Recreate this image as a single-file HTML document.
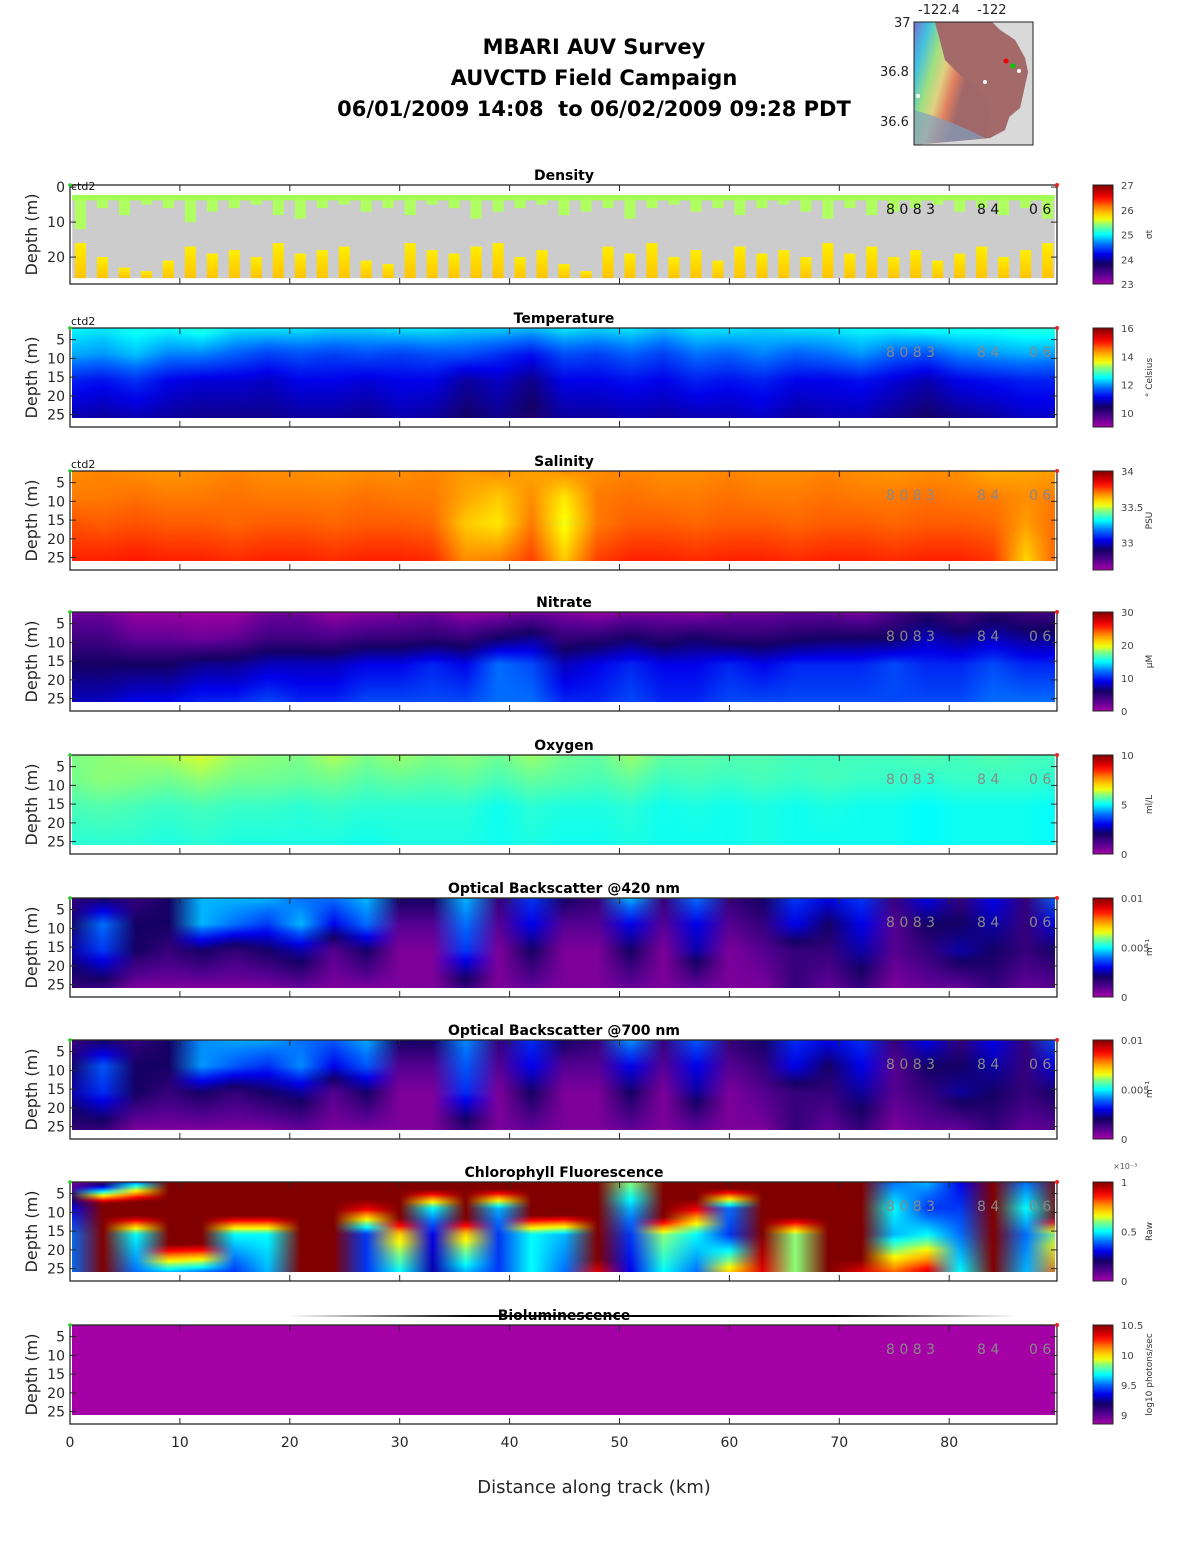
<!DOCTYPE html>
<html><head><meta charset="utf-8">
<style>
body{margin:0;background:#fff;}
#root{position:relative;width:1188px;height:1548px;overflow:hidden;background:#fff;font-family:"DejaVu Sans","Liberation Sans",sans-serif;}
canvas{position:absolute;}
svg{position:absolute;left:0;top:0;}
text{white-space:pre;}
</style></head>
<body>
<div id="root">
<svg id="svg" width="1188" height="1548"></svg>
</div>
<script>
const colKm = [0,3,6,9,12,15,18,21,24,27,30,33,36,39,42,45,48,51,54,57,60,63,66,69,72,75,78,81,84,87,90];
const levelDepths = [2,9,16,26];
// Temperature (deg C)
const tempD2 = [12.5,12.4,12.6,12.5,12.7,12.4,12.4,12.4,12.3,12.3,12.4,12.4,12.3,12.3,12.2,12.4,12.3,12.4,12.2,12.4,12.4,12.3,12.4,12.4,12.5,12.5,12.6,12.6,12.6,12.7,12.7];
const tempD9 = [12.1,12.0,12.2,11.9,11.9,11.7,11.5,11.6,11.5,11.6,11.5,11.6,11.6,11.4,11.2,11.6,11.5,11.7,11.5,11.8,11.7,11.9,11.7,11.8,12.0,11.7,11.6,11.9,12.0,12.1,12.0];
const tempD16 = [11.3,11.2,11.4,11.1,11.0,11.0,10.9,11.1,11.1,11.0,11.1,11.1,10.7,10.9,10.6,11.1,11.1,11.2,11.1,11.3,11.2,11.3,11.1,11.1,11.2,11.0,10.8,11.1,11.2,11.3,11.3];
const tempD26 = [10.8,10.7,10.8,10.7,10.6,10.6,10.6,10.7,10.7,10.6,10.8,10.7,10.4,10.6,10.3,10.7,10.7,10.8,10.7,10.8,10.8,10.9,10.7,10.8,10.8,10.6,10.4,10.6,10.7,10.9,10.9];
// Salinity (PSU)
const salD2 = [33.68,33.69,33.68,33.67,33.68,33.69,33.68,33.68,33.67,33.68,33.68,33.69,33.66,33.68,33.65,33.68,33.68,33.69,33.68,33.68,33.69,33.68,33.68,33.69,33.68,33.67,33.68,33.68,33.64,33.65,33.66];
const salD9 = [33.70,33.70,33.71,33.70,33.70,33.71,33.70,33.70,33.70,33.71,33.70,33.70,33.65,33.60,33.68,33.56,33.70,33.71,33.70,33.70,33.71,33.70,33.70,33.71,33.70,33.70,33.71,33.70,33.70,33.68,33.70];
const salD16 = [33.74,33.73,33.74,33.73,33.73,33.72,33.73,33.73,33.72,33.73,33.73,33.72,33.60,33.56,33.70,33.52,33.70,33.73,33.73,33.72,33.73,33.73,33.72,33.73,33.73,33.72,33.73,33.73,33.72,33.66,33.72];
const salD26 = [33.79,33.79,33.80,33.79,33.79,33.78,33.79,33.79,33.78,33.79,33.79,33.78,33.68,33.70,33.76,33.60,33.76,33.79,33.79,33.78,33.79,33.79,33.78,33.79,33.79,33.78,33.79,33.79,33.77,33.58,33.74];
// Nitrate (uM)
const no3D2 = [2,2,0.5,0.5,0.3,0.3,2,2,0.5,1,1.5,2,0.5,1,2,1.5,0.5,1.5,1.5,1,2,2,2.5,2.5,1.5,3.5,5,3.5,5,4,4];
const no3D9 = [4,4,2.5,2.5,2,2.5,4,4,3.5,4.5,4.5,5,4.5,6,7,4.5,5,6,5,6,5,5,5.5,6,6,6,8,7,8,7,7];
const no3D16 = [6,6,6,6,7,7,8,8,8,9,9,10,9,12,11,8,9,10,9,9,10,9,10,10,10,11,10,10,11,10,10];
const no3D26 = [8,8,9,9,10,10,11,10,10,11,11,11,11,12,12,10,10,11,10,10,11,11,11,11,11,11,11,11,12,12,12];
// Oxygen (ml/L)
const oxyD2 = [5.9,6.0,6.1,6.2,6.4,6.1,6.0,5.9,6.2,5.9,6.1,5.9,6.0,5.8,6.1,5.8,5.7,6.1,5.7,5.7,5.6,5.6,5.5,5.5,5.5,5.5,5.6,5.5,5.6,5.5,5.5];
const oxyD9 = [5.8,6.0,5.9,5.8,6.0,5.8,5.8,5.7,5.8,5.6,5.7,5.6,5.7,5.5,5.7,5.6,5.5,5.7,5.4,5.5,5.4,5.5,5.4,5.5,5.4,5.4,5.3,5.4,5.4,5.4,5.3];
const oxyD16 = [5.5,5.6,5.5,5.4,5.5,5.4,5.4,5.3,5.4,5.3,5.3,5.3,5.3,5.1,5.3,5.2,5.2,5.3,5.1,5.2,5.1,5.2,5.1,5.2,5.1,5.1,5.0,5.1,5.1,5.1,5.0];
const oxyD26 = [5.3,5.3,5.3,5.2,5.3,5.2,5.2,5.2,5.2,5.1,5.2,5.2,5.2,5.1,5.2,5.1,5.1,5.2,5.1,5.1,5.1,5.2,5.1,5.1,5.1,5.1,5.0,5.1,5.1,5.1,5.0];
// Optical backscatter 420 nm (1/m)
const bb420D2 = [0.0015,0.002,0.0015,0.002,0.0045,0.0045,0.0045,0.004,0.004,0.0045,0.002,0.002,0.0045,0.0015,0.0035,0.002,0.0015,0.0045,0.0015,0.004,0.0015,0.002,0.0035,0.003,0.0035,0.0015,0.003,0.0015,0.003,0.0015,0.004];
const bb420D9 = [0.002,0.004,0.002,0.002,0.0045,0.004,0.0035,0.0045,0.003,0.004,0.001,0.001,0.004,0.001,0.003,0.001,0.001,0.003,0.001,0.003,0.001,0.0015,0.003,0.002,0.003,0.001,0.002,0.002,0.0025,0.0015,0.003];
const bb420D16 = [0.0025,0.0035,0.002,0.0015,0.002,0.0015,0.002,0.0025,0.001,0.002,0.0005,0.0005,0.0035,0.0005,0.002,0.0005,0.0005,0.002,0.0005,0.0025,0.0005,0.001,0.0015,0.0015,0.0025,0.001,0.0015,0.0025,0.002,0.0015,0.002];
const bb420D26 = [0.0015,0.0015,0.0005,0.0005,0.0005,0.0005,0.0005,0.0008,0.0005,0.0005,0.0005,0.0005,0.0015,0.0005,0.0008,0.0005,0.0005,0.0008,0.0005,0.0008,0.0005,0.0005,0.0015,0.0008,0.0015,0.0005,0.0008,0.0008,0.0015,0.0008,0.001];
// Optical backscatter 700 nm (1/m)
const bb700D2 = [0.0014,0.002,0.0015,0.002,0.0042,0.0044,0.0044,0.004,0.0038,0.0044,0.002,0.002,0.0042,0.0015,0.0034,0.002,0.0015,0.0043,0.0015,0.0038,0.0015,0.002,0.0034,0.003,0.0034,0.0015,0.003,0.0015,0.003,0.0015,0.0038];
const bb700D9 = [0.002,0.0038,0.002,0.002,0.0043,0.0038,0.0034,0.0042,0.003,0.0038,0.001,0.001,0.0038,0.001,0.003,0.001,0.001,0.003,0.001,0.003,0.001,0.0015,0.003,0.002,0.003,0.001,0.002,0.002,0.0025,0.0015,0.003];
const bb700D16 = [0.0025,0.0034,0.002,0.0015,0.002,0.0015,0.002,0.0024,0.001,0.002,0.0005,0.0005,0.0034,0.0005,0.002,0.0005,0.0005,0.002,0.0005,0.0024,0.0005,0.001,0.0015,0.0015,0.0024,0.001,0.0015,0.0024,0.002,0.0015,0.002];
const bb700D26 = [0.0015,0.0015,0.0005,0.0005,0.0005,0.0005,0.0005,0.0008,0.0005,0.0005,0.0005,0.0005,0.0015,0.0005,0.0008,0.0005,0.0005,0.0008,0.0005,0.0008,0.0005,0.0005,0.0015,0.0008,0.0015,0.0005,0.0008,0.0008,0.0015,0.0008,0.001];
// Chlorophyll fluorescence (raw, x1e-3)
const chlD2 = [0.05,0.1,0.4,1.2,1.2,1.2,1.2,1.2,1.2,1.2,1.2,1.2,1.2,1.2,1.2,1.2,1.2,0.6,1.2,1.2,1.2,1.2,1.2,1.2,1.2,0.4,0.45,0.3,1.2,0.4,1.2];
const chlD9 = [0.3,1.2,1.2,1.2,1.2,1.2,1.2,1.2,1.2,0.9,1.2,0.5,1.2,0.45,1.2,1.2,1.2,0.45,1.2,0.9,0.4,1.2,1.2,1.2,1.2,0.5,0.35,0.35,1.2,0.5,1.2];
const chlD16 = [0.4,1.2,0.5,1.2,1.2,0.5,0.5,1.2,1.2,0.35,0.7,0.3,0.7,0.35,0.5,0.45,1.2,0.35,0.6,0.5,0.35,1.0,0.6,1.2,1.2,0.45,0.5,0.4,1.2,0.4,0.6];
const chlD26 = [0.4,1.2,0.4,0.45,0.4,0.35,0.45,1.0,1.0,0.35,0.5,0.25,0.45,0.35,0.5,0.4,0.9,0.3,0.5,0.4,0.7,0.9,0.6,1.2,0.9,0.8,0.9,0.5,1.0,0.45,0.8];
// Bioluminescence (log10 photons/sec)
const bioD2 = [8.85,8.85,8.85,8.85,8.85,8.85,8.85,8.85,8.85,8.85,8.85,8.85,8.85,8.85,8.85,8.85,8.85,8.85,8.85,8.85,8.85,8.85,8.85,8.85,8.85,8.85,8.85,8.85,8.85,8.85,8.85];
const bioD9 = bioD2.slice(), bioD16 = bioD2.slice(), bioD26 = bioD2.slice();
// Density profiles
const densKm = [1,3,5,7,9,11,13,15,17,19,21,23,25,27,29,31,33,35,37,39,41,43,45,47,49,51,53,55,57,59,61,63,65,67,69,71,73,75,77,79,81,83,85,87,89];
const densGreenBottom = [12,6,8,5,6,10,7,6,5,8,9,6,5,7,6,8,5,6,9,7,6,5,8,7,6,9,6,5,7,6,8,6,5,7,9,6,8,7,6,5,7,6,8,6,9];
const densYellowTop = [16,20,23,24,21,17,19,18,20,16,19,18,17,21,22,16,18,19,17,16,20,18,22,24,17,19,16,20,18,21,17,19,18,20,16,19,17,20,18,21,19,17,20,18,16];
const xTicks = [0,10,20,30,40,50,60,70,80];

const cmapStops = [[0,[165,0,165]],[0.1,[85,0,145]],[0.2,[20,0,100]],[0.3,[0,0,235]],[0.4,[0,110,255]],[0.5,[0,255,255]],[0.6,[140,255,120]],[0.66,[255,255,0]],[0.77,[255,140,0]],[0.87,[255,0,0]],[1,[128,0,0]]];
function cmap(t){t=Math.max(0,Math.min(1,t));for(let i=1;i<cmapStops.length;i++){if(t<=cmapStops[i][0]){const a=cmapStops[i-1],b=cmapStops[i];const f=(t-a[0])/(b[0]-a[0]);return a[1].map((v,k)=>Math.round(v+(b[1][k]-v)*f));}}return cmapStops[cmapStops.length-1][1];}

const NS="http://www.w3.org/2000/svg";
const svg=document.getElementById('svg');
const root=document.getElementById('root');
function el(tag,attrs,parent){const e=document.createElementNS(NS,tag);for(const k in attrs)e.setAttribute(k,attrs[k]);(parent||svg).appendChild(e);return e;}
function txt(x,y,s,attrs,parent){const e=el('text',Object.assign({x:x,y:y,'font-family':'"DejaVu Sans","Liberation Sans",sans-serif'},attrs||{}),parent);e.textContent=s;return e;}

const X0=70,X1=1057,KMPX=10.99;
function X(km){return X0+km*KMPX;}
const tops=[185,328,471,612,755,898,1040,1182,1325];
const BH=99;

const defs=el('defs',{});
const lg=el('linearGradient',{id:'cbg',x1:0,y1:1,x2:0,y2:0},defs);
for(let i=0;i<=20;i++){const c=cmap(i/20);el('stop',{offset:i/20,'stop-color':'rgb('+c.join(',')+')'},lg);}
const lg2=el('linearGradient',{id:'greyline',x1:0,y1:0,x2:1,y2:0},defs);
el('stop',{offset:0,'stop-color':'#fff'},lg2);el('stop',{offset:0.25,'stop-color':'#000'},lg2);el('stop',{offset:0.75,'stop-color':'#000'},lg2);el('stop',{offset:1,'stop-color':'#fff'},lg2);
const ylg=el('linearGradient',{id:'yel',x1:0,y1:0,x2:0,y2:1},defs);
el('stop',{offset:0,'stop-color':'#ffee00'},ylg);el('stop',{offset:1,'stop-color':'#ffc400'},ylg);

const t1=txt(594,54,'MBARI AUV Survey',{'text-anchor':'middle','font-size':21,'font-weight':'bold'});

const t2=txt(594,85,'AUVCTD Field Campaign',{'text-anchor':'middle','font-size':21,'font-weight':'bold'});

const t3=txt(594,116,'06/01/2009 14:08  to 06/02/2009 09:28 PDT',{'text-anchor':'middle','font-size':21,'font-weight':'bold'});


const mg=el('g',{});

const mlg=el('linearGradient',{id:'mapg',x1:0,y1:0,x2:1,y2:0.3},defs);
[[0,'#7a6fd0'],[0.12,'#40c0e0'],[0.25,'#a0e080'],[0.35,'#e0d080'],[0.45,'#e08060'],[0.55,'#a06868']].forEach(s=>el('stop',{offset:s[0],'stop-color':s[1]},mlg));
el('rect',{x:914,y:22,width:119,height:123,fill:'#d9d9d9'},mg);
el('path',{d:'M914 22 L992 22 L1000 30 L1015 40 L1025 58 L1028 72 L1024 90 L1020 108 L1010 115 L1005 130 L990 138 L914 145 Z',fill:'url(#mapg)'},mg);
el('path',{d:'M935 22 L992 22 L1000 30 L1015 40 L1025 58 L1028 72 L1024 90 L1020 108 L1008 118 L1000 132 L985 138 L990 110 L980 90 L960 75 L945 60 Z',fill:'#a46a6a'},mg);
el('path',{d:'M914 110 Q950 120 985 138 L914 145 Z',fill:'#7fa0c0',opacity:0.7},mg);
el('rect',{x:914,y:22,width:119,height:123,fill:'none',stroke:'#222','stroke-width':1},mg);
el('circle',{cx:1006,cy:61,r:2.5,fill:'#e00'},mg);el('circle',{cx:1013,cy:66,r:2.5,fill:'#0c0'},mg);
el('circle',{cx:1019,cy:71,r:2,fill:'#fff'},mg);el('circle',{cx:985,cy:82,r:2,fill:'#fff'},mg);el('circle',{cx:918,cy:96,r:2,fill:'#fff'},mg);
txt(918,14,'-122.4',{'font-size':13,fill:'#222'},mg);txt(977,14,'-122',{'font-size':13,fill:'#222'},mg);
txt(894,27,'37',{'font-size':13,fill:'#222'},mg);txt(880,76,'36.8',{'font-size':13,fill:'#222'},mg);txt(880,126,'36.6',{'font-size':13,fill:'#222'},mg);

const panels=[
 {name:'density',title:'Density',vmin:23,vmax:27,cbTicks:[23,24,25,26,27],unit:'σt'},
 {name:'temperature',title:'Temperature',vmin:9,vmax:16,cbTicks:[10,12,14,16],unit:'° Celsius',levels:[tempD2,tempD9,tempD16,tempD26]},
 {name:'salinity',title:'Salinity',vmin:32.62,vmax:34,cbTicks:[33,33.5,34],unit:'PSU',levels:[salD2,salD9,salD16,salD26]},
 {name:'nitrate',title:'Nitrate',vmin:0,vmax:30,cbTicks:[0,10,20,30],unit:'μM',levels:[no3D2,no3D9,no3D16,no3D26]},
 {name:'oxygen',title:'Oxygen',vmin:0,vmax:10,cbTicks:[0,5,10],unit:'ml/L',levels:[oxyD2,oxyD9,oxyD16,oxyD26]},
 {name:'backscatter-420',title:'Optical Backscatter @420 nm',vmin:0,vmax:0.01,cbTicks:[0,0.005,0.01],unit:'m⁻¹',levels:[bb420D2,bb420D9,bb420D16,bb420D26]},
 {name:'backscatter-700',title:'Optical Backscatter @700 nm',vmin:0,vmax:0.01,cbTicks:[0,0.005,0.01],unit:'m⁻¹',levels:[bb700D2,bb700D9,bb700D16,bb700D26]},
 {name:'chlorophyll',title:'Chlorophyll Fluorescence',vmin:0,vmax:1,cbTicks:[0,0.5,1],unit:'Raw',levels:[chlD2,chlD9,chlD16,chlD26]},
 {name:'bioluminescence',title:'Bioluminescence',vmin:8.85,vmax:10.5,cbTicks:[9,9.5,10,10.5],unit:'log10 photons/sec',levels:[bioD2,bioD9,bioD16,bioD26]}
];

panels.forEach((p,pi)=>{
  const top=tops[pi];
  const isDens=pi===0;
  const Y=isDens?(d=>top+(d+0.6)*3.5):(d=>top+(d-1.9)*3.75);
  const g=el('g',{});
  
  
  const tt=txt(564,top-5,p.title,{'text-anchor':'middle','font-size':14,'font-weight':'bold'},g);
  
  const ya=el('text',{x:0,y:0,transform:'translate(37,'+(top+BH/2)+') rotate(-90)','text-anchor':'middle','font-size':16,fill:'#222','font-family':'"DejaVu Sans","Liberation Sans",sans-serif'},g);
  ya.textContent='Depth (m)';
  
  const dataTop=Y(2), dataBot=Y(26);
  if(isDens){
    el('rect',{x:X(0.2),y:Y(2.3),width:X(89.6)-X(0.2),height:Y(26)-Y(2.3),fill:'#cccccc'},g);
    el('rect',{x:X(0.2),y:Y(2.3),width:X(89.6)-X(0.2),height:Y(3.8)-Y(2.3),fill:'#a0ff50'},g);
    densKm.forEach((km,i)=>{
      const r=el('rect',{x:X(km)-6,y:Y(3.5),width:11,height:Y(densGreenBottom[i])-Y(3.5),fill:'#b0ff60'},g);
      
      const r2=el('rect',{x:X(km)-6,y:Y(densYellowTop[i]),width:11,height:Y(26)-Y(densYellowTop[i]),fill:'url(#yel)'},g);
      
    });
  } else {
    const nr=96,nc=colKm.length;
    const off=document.createElement('canvas');off.width=nc;off.height=nr;
    const octx=off.getContext('2d');const img=octx.createImageData(nc,nr);
    for(let r=0;r<nr;r++){
      const d=2+(r+0.5)/nr*24;
      let k=0;while(k<levelDepths.length-2&&d>levelDepths[k+1])k++;
      const f=Math.max(0,Math.min(1,(d-levelDepths[k])/(levelDepths[k+1]-levelDepths[k])));
      for(let c=0;c<nc;c++){
        const v=p.levels[k][c]*(1-f)+p.levels[k+1][c]*f;
        const col=cmap((v-p.vmin)/(p.vmax-p.vmin));
        const o=(r*nc+c)*4;img.data[o]=col[0];img.data[o+1]=col[1];img.data[o+2]=col[2];img.data[o+3]=255;
      }
    }
    octx.putImageData(img,0,0);
    const cv=document.createElement('canvas');
    const cx0=Math.round(X(0.2)),cx1=Math.round(X(89.6));
    cv.width=cx1-cx0;cv.height=Math.round(dataBot-dataTop);
    cv.style.left=cx0+'px';cv.style.top=Math.round(dataTop)+'px';
    
    
    const ctx=cv.getContext('2d');ctx.imageSmoothingEnabled=true;ctx.imageSmoothingQuality='high';
    const dx0=X(-1.5)-cx0,dx1=X(91.5)-cx0;
    ctx.drawImage(off,0,0,nc,nr,dx0,0,dx1-dx0,cv.height);
    root.insertBefore(cv,svg);
  }
  const bx=el('rect',{x:X0,y:top,width:X1-X0,height:BH,fill:'none',stroke:'#262626','stroke-width':1.3},g);
  
  xTicks.forEach(t=>{el('line',{x1:X(t),x2:X(t),y1:top,y2:top+6,stroke:'#262626'},g);el('line',{x1:X(t),x2:X(t),y1:top+BH,y2:top+BH-6,stroke:'#262626'},g);});
  const yt=isDens?[0,10,20]:[5,10,15,20,25];
  yt.forEach(d=>{const y=Y(d);el('line',{x1:X0,x2:X0+6,y1:y,y2:y,stroke:'#262626'},g);el('line',{x1:X1,x2:X1-6,y1:y,y2:y,stroke:'#262626'},g);
    txt(65,y+5,String(d),{'text-anchor':'end','font-size':14,fill:'#262626'},g);});
  if(pi<3){txt(71,isDens?top+5:top-3,'ctd2',{'font-size':11,fill:'#111'},g);}
  el('circle',{cx:X0,cy:top,r:1.8,fill:'#2c2'},g);el('circle',{cx:X1,cy:top,r:2,fill:'#e22'},g);
  const lc=isDens?'#111':'#888';
  txt(886,top+29,'8 0 8 3',{'font-size':14,fill:lc},g);
  txt(977,top+29,'8 4',{'font-size':14,fill:lc},g);
  txt(1029,top+29,'0 6',{'font-size':14,fill:lc},g);
  const cb=el('rect',{x:1093,y:top,width:20,height:BH,fill:'url(#cbg)',stroke:'#262626','stroke-width':1},g);
  
  p.cbTicks.forEach(v=>{const y=top+BH-(v-p.vmin)/(p.vmax-p.vmin)*BH;
    txt(1121,y+4,String(v),{'font-size':10,fill:'#444'},g);});
  const ul=el('text',{x:0,y:0,transform:'translate(1152,'+(top+BH/2)+') rotate(-90)','text-anchor':'middle','font-size':9,fill:'#333','font-family':'"DejaVu Sans","Liberation Sans",sans-serif'},g);
  ul.textContent=p.unit;
  
  if(pi===7)txt(1113,top-13,'×10⁻³',{'font-size':8,fill:'#555'},g);
});
el('rect',{x:X(20),y:1315,width:X(86)-X(20),height:2,fill:'url(#greyline)'});
xTicks.forEach(t=>{const e=txt(X(t),1447,String(t),{'text-anchor':'middle','font-size':14,fill:'#262626'});
  });
const xt=txt(594,1493,'Distance along track (km)',{'text-anchor':'middle','font-size':18,fill:'#262626'});

</script>
</body></html>
